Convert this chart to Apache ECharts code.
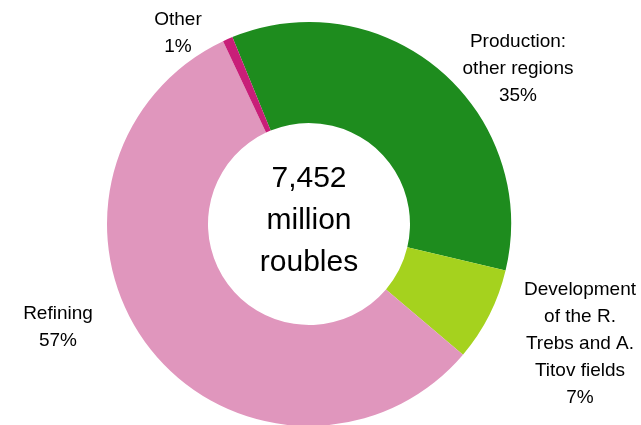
<!DOCTYPE html>
<html>
<head>
<meta charset="utf-8">
<script src="https://cdn.jsdelivr.net/npm/echarts@6/dist/echarts.min.js"></script>
<style>
html,body{margin:0;padding:0;background:#fff;}
#chart{width:641px;height:425px;}
</style>
</head>
<body>
<div id="chart"></div>
<script>
// Data
var categories = ["Production:\nother regions", "Development\nof the R.\nTrebs and A.\nTitov fields", "Refining", "Other"];
var shares = [34.9, 7.5, 56.8, 0.8];
var shareLabels = ["35%", "7%", "57%", "1%"];
var totalLabel = ["7,452", "million", "roubles"];

// Style
var colors = ["#1e8c1e", "#a5d21e", "#e096bd", "#c81e78"];
var labelPos = [[518, 69], [580, 344], [58, 327], [178, 33]];
var FONT = "'Liberation Sans', Arial, sans-serif";

var chart = echarts.init(document.getElementById('chart'), null, {renderer: 'canvas'});
var data = categories.map(function (c, i) {
  return {name: c, value: shares[i], itemStyle: {color: colors[i]}};
});
chart.setOption({
  animation: false,
  series: [{
    type: 'pie',
    center: [309, 224],
    radius: [101, 202],
    startAngle: 112.3,
    clockwise: true,
    avoidLabelOverlap: false,
    data: data,
    label: {
      show: true,
      position: 'outside',
      formatter: function (p) { return p.name + '\n' + shareLabels[p.dataIndex]; },
      fontFamily: FONT,
      fontSize: 19,
      lineHeight: 27,
      color: '#000',
      align: 'center'
    },
    labelLine: {show: false},
    labelLayout: function (p) {
      var pos = labelPos[p.dataIndex];
      return {x: pos[0], y: pos[1], align: 'center', verticalAlign: 'middle'};
    },
    emphasis: {disabled: true}
  }],
  graphic: [{
    type: 'text',
    x: 309,
    y: 221,
    style: {
      text: totalLabel.join('\n'),
      font: '30px ' + FONT,
      lineHeight: 42,
      fill: '#000',
      align: 'center',
      verticalAlign: 'middle'
    }
  }]
});
</script>
</body>
</html>
